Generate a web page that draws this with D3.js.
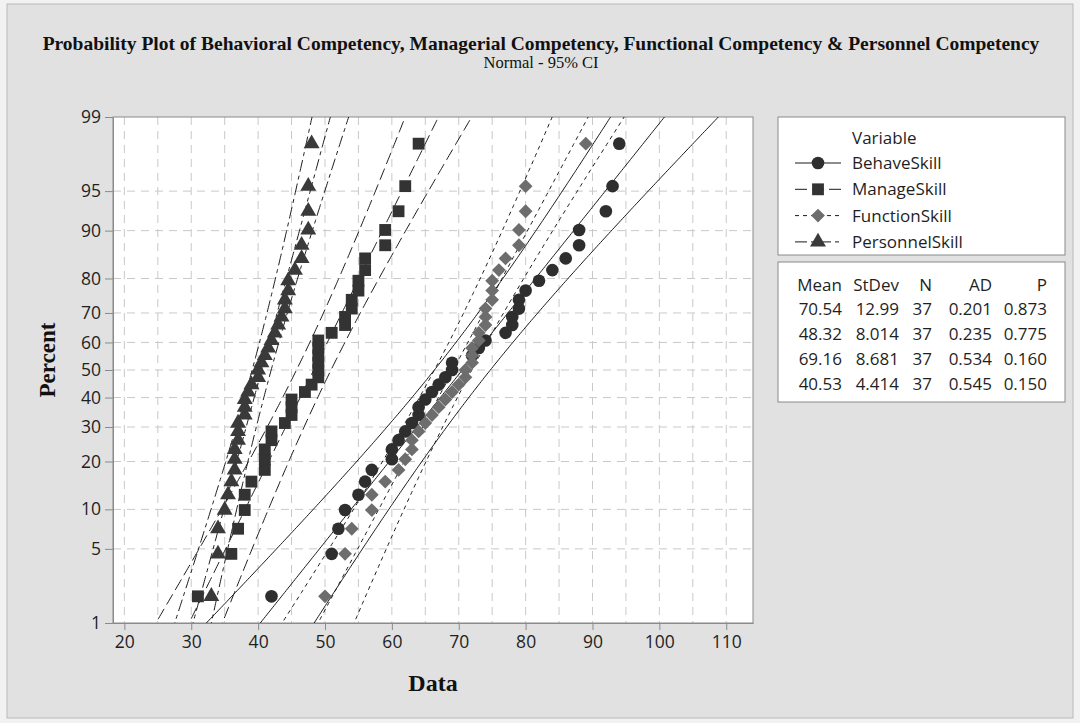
<!DOCTYPE html>
<html>
<head>
<meta charset="utf-8">
<script src="https://cdn.jsdelivr.net/npm/d3@7"></script>
<style>
  body { margin: 0; background: #f2f2f2; }
  svg { display: block; }
  .axis path, .axis line { stroke: #8a8a8a; }
  .axis text { font-family: "Open Sans", sans-serif; font-size: 17.5px; fill: #1f1f1f; }
  .lab { font-family: "Open Sans", sans-serif; font-size: 17px; fill: #1f1f1f; }
</style>
</head>
<body>
<div id="chart"></div>
<script>
// sorted values, one per observation (n = 37 each)
var behaveSkill = [42,51,52,53,55,56,57,60,60,61,62,63,64,64,65,66,67,68,69,
  69,72,73,74,77,78,78,79,79,80,82,84,86,88,88,92,93,94];
var manageSkill = [31,36,37,38,38,39,41,41,41,42,42,44,45,45,45,47,48,49,49,
  49,49,49,49,51,53,53,54,54,55,55,56,56,59,59,61,62,64];
var functionSkill = [50,53,54,57,57,59,61,62,63,63,64,65,66,67,68,69,70,71,71,
  72,72,72,73,73,74,74,74,75,75,75,76,77,79,79,80,80,89];
var personnelSkill = [33,34,34,35,35.5,36,36.5,36.5,36.5,37,37,37,38,38,38,38.5,39,40,40,
  40.5,41,41.5,42,42.5,43,43.5,44,44,44.5,44.5,45.5,46.5,46.5,47.5,47.5,47.5,48];

var seriesNames = ['BehaveSkill', 'ManageSkill', 'FunctionSkill', 'PersonnelSkill'];
var means = [70.54, 48.32, 69.16, 40.53];
var stdevs = [12.99, 8.014, 8.681, 4.414];
var counts = [37, 37, 37, 37];
var adValues = ['0.201', '0.235', '0.534', '0.545'];
var pValues = ['0.873', '0.775', '0.160', '0.150'];
var meanLabels = ['70.54', '48.32', '69.16', '40.53'];
var stdevLabels = ['12.99', '8.014', '8.681', '4.414'];

var percentTicks = [1, 5, 10, 20, 30, 40, 50, 60, 70, 80, 90, 95, 99];
var xTicks = [20, 30, 40, 50, 60, 70, 80, 90, 100, 110];

var W = 1080, H = 723;
var plot = {left: 113, right: 753, top: 117, bottom: 623};

// inverse normal cdf (Acklam)
function probit(p) {
  var a = [-39.69683028665376, 220.9460984245205, -275.9285104469687, 138.3577518672690, -30.66479806614716, 2.506628277459239],
      b = [-54.47609879822406, 161.5858368580409, -155.6989798598866, 66.80131188771972, -13.28068155288572],
      c = [-0.007784894002430293, -0.3223964580411365, -2.400758277161838, -2.549732539343734, 4.374664141464968, 2.938163982698783],
      d = [0.007784695709041462, 0.3224671290700398, 2.445134137142996, 3.754408661907416];
  var q, r;
  if (p < 0.02425) {
    q = Math.sqrt(-2 * Math.log(p));
    return (((((c[0]*q+c[1])*q+c[2])*q+c[3])*q+c[4])*q+c[5]) / ((((d[0]*q+d[1])*q+d[2])*q+d[3])*q+1);
  } else if (p > 1 - 0.02425) {
    q = Math.sqrt(-2 * Math.log(1 - p));
    return -(((((c[0]*q+c[1])*q+c[2])*q+c[3])*q+c[4])*q+c[5]) / ((((d[0]*q+d[1])*q+d[2])*q+d[3])*q+1);
  }
  q = p - 0.5; r = q * q;
  return (((((a[0]*r+a[1])*r+a[2])*r+a[3])*r+a[4])*r+a[5])*q / (((((b[0]*r+b[1])*r+b[2])*r+b[3])*r+b[4])*r+1);
}

var svg = d3.select('#chart').append('svg').attr('width', W).attr('height', H);

svg.append('rect').attr('x', 7).attr('y', 4).attr('width', 1066).attr('height', 714)
  .attr('fill', '#e1e1e1').attr('stroke', '#b9b9b9');

var xScale = d3.scaleLinear().domain([18.3, 114]).range([plot.left, plot.right]);
var zScale = d3.scaleLinear().domain([probit(0.01), probit(0.99)]).range([plot.bottom, plot.top]);

// title
svg.append('text').text('Probability Plot of Behavioral Competency, Managerial Competency, Functional Competency & Personnel Competency')
  .attr('x', 541).attr('y', 50).attr('text-anchor', 'middle')
  .style('font-family', '"Liberation Serif", serif').style('font-weight', 'bold').style('font-size', '19.5px').style('fill', '#111');
svg.append('text').text('Normal - 95% CI')
  .attr('x', 541).attr('y', 68).attr('text-anchor', 'middle')
  .style('font-family', '"Liberation Serif", serif').style('font-size', '16.5px').style('fill', '#111');

// plot background
svg.append('rect').attr('x', plot.left).attr('y', plot.top)
  .attr('width', plot.right - plot.left).attr('height', plot.bottom - plot.top)
  .attr('fill', '#fff');

svg.append('clipPath').attr('id', 'clip').append('rect')
  .attr('x', plot.left).attr('y', plot.top)
  .attr('width', plot.right - plot.left).attr('height', plot.bottom - plot.top);

// grid
var grid = svg.append('g').attr('stroke', '#c9c9c9').attr('stroke-dasharray', '8,6');
grid.selectAll('.vg').data(d3.range(20, 114, 5)).enter().append('line')
  .attr('x1', function(d) {return xScale(d);}).attr('x2', function(d) {return xScale(d);})
  .attr('y1', plot.top).attr('y2', plot.bottom);
grid.selectAll('.hg').data(percentTicks.slice(1, -1)).enter().append('line')
  .attr('y1', function(d) {return zScale(probit(d / 100));}).attr('y2', function(d) {return zScale(probit(d / 100));})
  .attr('x1', plot.left).attr('x2', plot.right);

// axes
svg.append('g').attr('class', 'axis')
  .attr('transform', 'translate(0,' + plot.bottom + ')')
  .call(d3.axisBottom(xScale).tickValues(xTicks).tickSize(7).tickPadding(6).tickSizeOuter(0));
svg.append('g').attr('class', 'axis')
  .attr('transform', 'translate(' + plot.left + ',0)')
  .call(d3.axisLeft(zScale).tickValues(percentTicks.map(function(p) {return probit(p / 100);}))
    .tickFormat(function(d, i) {return percentTicks[i];}).tickSize(8).tickPadding(4).tickSizeOuter(0));

svg.append('rect').attr('x', plot.left).attr('y', plot.top)
  .attr('width', plot.right - plot.left).attr('height', plot.bottom - plot.top)
  .attr('fill', 'none').attr('stroke', '#8a8a8a');

svg.append('text').text('Percent')
  .attr('transform', 'translate(55,360) rotate(-90)').attr('text-anchor', 'middle')
  .style('font-family', '"Liberation Serif", serif').style('font-weight', 'bold').style('font-size', '23px').style('fill', '#111');
svg.append('text').text('Data')
  .attr('x', 433).attr('y', 691).attr('text-anchor', 'middle')
  .style('font-family', '"Liberation Serif", serif').style('font-weight', 'bold').style('font-size', '24px').style('fill', '#111');

// series styles
var dashes = [null, '12,5', '4,4', '12,4,4,4'];
var fills = ['#2e2e2e', '#333333', '#6d6d6d', '#3a3a3a'];
var symbols = [
  d3.symbol().type(d3.symbolCircle).size(125),
  d3.symbol().type(d3.symbolSquare).size(140),
  d3.symbol().type(d3.symbolSquare).size(95),
  d3.symbol().type(d3.symbolTriangle).size(110)
];
var rotations = [0, 0, 45, 0];
var allData = [behaveSkill, manageSkill, functionSkill, personnelSkill];

// fitted line and 95% CI
var zs = d3.range(probit(0.01) - 0.1, probit(0.99) + 0.1, 0.02);
var lines = svg.append('g').attr('clip-path', 'url(#clip)');
allData.forEach(function(vals, k) {
  var m = means[k], s = stdevs[k], n = counts[k];
  [0, -1, 1].forEach(function(sign) {
    var line = d3.line()
      .x(function(z) {return xScale(m + z * s + sign * 1.96 * s * Math.sqrt(1 / n + z * z / (2 * n)));})
      .y(function(z) {return zScale(z);});
    lines.append('path').datum(zs).attr('d', line)
      .attr('fill', 'none').attr('stroke', '#1a1a1a').attr('stroke-width', 1)
      .attr('stroke-dasharray', dashes[k]);
  });
});

// points at median-rank plotting positions
var pts = svg.append('g');
allData.forEach(function(vals, k) {
  var n = vals.length;
  pts.selectAll('.p' + k).data(vals).enter().append('path')
    .attr('d', symbols[k])
    .attr('transform', function(d, i) {
      var p = (i + 1 - 0.3) / (n + 0.4);
      return 'translate(' + xScale(d) + ',' + zScale(probit(p)) + ') rotate(' + rotations[k] + ')';
    })
    .attr('fill', fills[k]);
});

// legend
var lg = svg.append('g');
lg.append('rect').attr('x', 778).attr('y', 117).attr('width', 287).attr('height', 138)
  .attr('fill', '#fff').attr('stroke', '#8a8a8a');
lg.append('text').attr('class', 'lab').text('Variable').attr('x', 852).attr('y', 138).attr('dy', '0.35em');
seriesNames.forEach(function(name, k) {
  var yy = 163 + k * 26.3;
  lg.append('line').attr('x1', 795).attr('x2', 841).attr('y1', yy).attr('y2', yy)
    .attr('stroke', '#1a1a1a').attr('stroke-dasharray', dashes[k]);
  lg.append('path').attr('d', symbols[k])
    .attr('transform', 'translate(818,' + yy + ') rotate(' + rotations[k] + ')')
    .attr('fill', fills[k]);
  lg.append('text').attr('class', 'lab').text(name).attr('x', 852).attr('y', yy).attr('dy', '0.35em');
});

// stats table
var st = svg.append('g');
st.append('rect').attr('x', 778).attr('y', 262).attr('width', 287).attr('height', 140)
  .attr('fill', '#fff').attr('stroke', '#8a8a8a');
var colX = [842, 899, 932, 992, 1047];
var header = ['Mean', 'StDev', 'N', 'AD', 'P'];
header.forEach(function(h, j) {
  st.append('text').attr('class', 'lab').text(h).attr('x', colX[j]).attr('y', 285)
    .attr('dy', '0.35em').attr('text-anchor', 'end');
});
seriesNames.forEach(function(name, k) {
  var row = [meanLabels[k], stdevLabels[k], counts[k], adValues[k], pValues[k]];
  row.forEach(function(v, j) {
    st.append('text').attr('class', 'lab').text(v).attr('x', colX[j]).attr('y', 309 + k * 25)
      .attr('dy', '0.35em').attr('text-anchor', 'end');
  });
});
</script>
</body>
</html>
